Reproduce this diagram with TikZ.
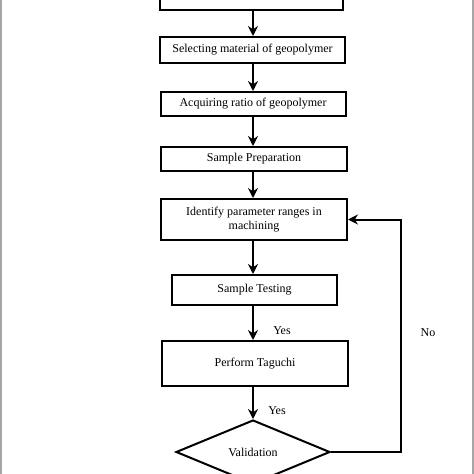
\documentclass[tikz,border=0pt]{standalone}
\usepackage{fontspec}
\setmainfont{Liberation Serif}
\usetikzlibrary{shapes.geometric,arrows.meta}

\begin{document}
\begin{tikzpicture}[x=1pt,y=-1pt]
\tikzstyle{every node}+=[inner sep=0pt,font=\fontsize{12}{14}\selectfont]
\tikzstyle{stepbox}=[draw=black,line width=2pt,rectangle,align=center]
\tikzstyle{flow}=[draw=black,line width=2pt,-{Stealth[length=10pt,width=10pt]}]
\useasboundingbox (0,0) rectangle (474,474);
\clip (0,0) rectangle (474,474);
\fill [white] (0,0) rectangle (474,474);
\fill [gray!70] (0,0) rectangle (2,474);
\fill [gray!70] (472,0) rectangle (474,474);
\node [stepbox,minimum width=183pt,minimum height=30pt] (start) at (251.5,-5) {};
\node [stepbox,minimum width=185pt,minimum height=26pt] (select) at (252.5,50) {Selecting material of geopolymer};
\node [stepbox,minimum width=185pt,minimum height=24pt] (ratio) at (253,104) {Acquiring ratio of geopolymer};
\node [stepbox,minimum width=186pt,minimum height=24pt] (prep) at (254,159) {Sample Preparation};
\node [stepbox,minimum width=186pt,minimum height=41pt] (ident) at (254,219.5) {Identify parameter ranges in\\machining};
\node [stepbox,minimum width=165pt,minimum height=30pt] (test) at (254.5,290) {Sample Testing};
\node [stepbox,minimum width=186pt,minimum height=45pt] (taguchi) at (255,363.5) {Perform Taguchi};
\node [draw=black,line width=2pt,diamond,minimum width=154pt,minimum height=64pt] (valid) at (253,452) {Validation};
\coordinate (fb) at (401,219.5);
\draw [flow] (start.south -| 253,0) -- (select.north -| 253,0);
\draw [flow] (select.south -| 253,0) -- (ratio.north -| 253,0);
\draw [flow] (ratio.south -| 253,0) -- (prep.north -| 253,0);
\draw [flow] (prep.south -| 253,0) -- (ident.north -| 253,0);
\draw [flow] (ident.south -| 253,0) -- (test.north -| 253,0);
\draw [flow] (test.south -| 253,0) -- (taguchi.north -| 253,0);
\draw [flow] (taguchi.south -| 253,0) -- (valid.north);
\draw [flow] (valid.east) -| (fb) -- (ident.east);
\node (yes1) at (282,331) {Yes};
\node (yes2) at (277,411) {Yes};
\node (no) at (428,333) {No};
\end{tikzpicture}
\end{document}
